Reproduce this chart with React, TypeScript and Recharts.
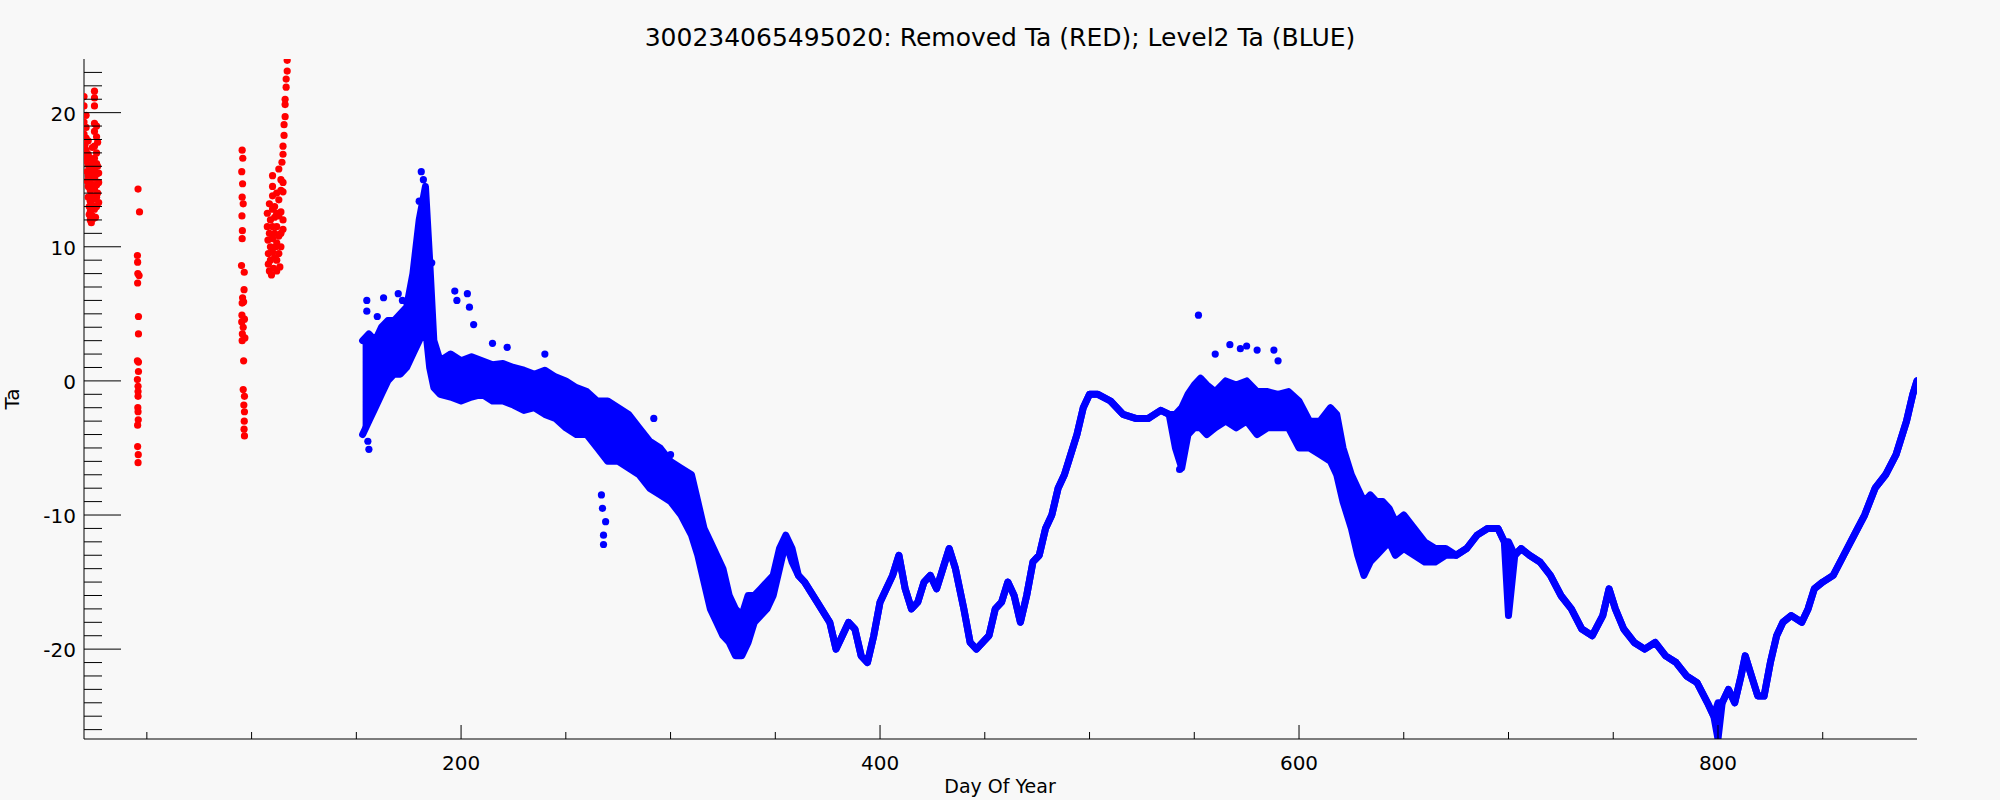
import {
  Area,
  ComposedChart,
  Scatter,
  XAxis,
  YAxis,
} from "recharts";

// Level2 Ta trace: [day, low, high] envelope of the plotted cloud
const level2Band: [number, number, number][] = [
  [153, -4, 3], [156, -3, 3.5], [159, -2, 3], [162, -1, 4], [165, 0, 4.5],
  [168, 0.5, 4.5], [171, 0.5, 5], [174, 1, 5.5], [177, 2, 8], [180, 3, 12],
  [183, 4, 14.5], [185, 1, 9], [187, -0.5, 3], [190, -1, 1.5], [195, -1.2, 2],
  [200, -1.5, 1.5], [205, -1.2, 1.8], [210, -1, 1.5], [215, -1.5, 1.2], [220, -1.5, 1.3],
  [225, -1.8, 1], [230, -2.2, 0.8], [235, -2, 0.5], [240, -2.5, 0.8], [245, -2.8, 0.3],
  [250, -3.5, 0], [255, -4, -0.5], [260, -4, -0.8], [265, -5, -1.5], [270, -6, -1.5],
  [275, -6, -2], [280, -6.5, -2.5], [285, -7, -3.5], [290, -8, -4.5], [295, -8.5, -5],
  [300, -9, -6], [305, -10, -6.5], [310, -11.5, -7], [313, -13, -9], [316, -15, -11],
  [319, -17, -12], [322, -18, -13], [325, -19, -14], [328, -19.5, -16], [331, -20.5, -17],
  [334, -20.5, -17.5], [337, -19.5, -16], [340, -18, -16], [343, -17.5, -15.5], [346, -17, -15],
  [349, -16, -14.5], [352, -14, -12.5], [355, -12, -11.5], [358, -13.5, -12.5],
  [361, -14.5, -14.5], [364, -15, -15], [370, -16.5, -16.5], [376, -18, -18], [379, -20, -20],
  [382, -19, -19], [385, -18, -18], [388, -18.5, -18.5], [391, -20.5, -20.5], [394, -21, -21],
  [397, -19, -19], [400, -16.5, -16.5], [403, -15.5, -15.5], [406, -14.5, -14.5], [409, -13, -13],
  [412, -15.5, -15.5], [415, -17, -17], [418, -16.5, -16.5], [421, -15, -15], [424, -14.5, -14.5],
  [427, -15.5, -15.5], [430, -14, -14], [433, -12.5, -12.5], [436, -14, -14], [440, -17, -17],
  [443, -19.5, -19.5], [446, -20, -20], [449, -19.5, -19.5], [452, -19, -19], [455, -17, -17],
  [458, -16.5, -16.5], [461, -15, -15], [464, -16, -16], [467, -18, -18], [470, -16, -16],
  [473, -13.5, -13.5], [476, -13, -13], [479, -11, -11], [482, -10, -10], [485, -8, -8],
  [488, -7, -7], [491, -5.5, -5.5], [494, -4, -4], [497, -2, -2], [500, -1, -1],
  [504, -1, -1], [510, -1.5, -1.5], [516, -2.5, -2.5], [522, -2.8, -2.8], [528, -2.8, -2.8],
  [534, -2.2, -2.2], [538, -2.5, -2.5], [541, -5, -2.5], [544, -6.5, -2], [547, -4, -1],
  [550, -3.5, -0.3], [553, -3.5, 0.2], [556, -4, -0.3], [560, -3.5, -0.8], [565, -3, 0],
  [570, -3.5, -0.3], [575, -3, 0], [580, -4, -0.8], [585, -3.5, -0.8], [590, -3.5, -1],
  [595, -3.5, -0.8], [600, -5, -1.5], [605, -5, -3], [610, -5.5, -3], [615, -6, -2],
  [618, -7, -2.5], [621, -9, -5], [625, -11, -7], [628, -13, -8], [631, -14.5, -9],
  [634, -13.5, -8.5], [637, -13, -9], [640, -12.5, -9], [643, -12, -9.5], [646, -13, -10.5],
  [650, -12.5, -10], [655, -13, -11], [660, -13.5, -12], [665, -13.5, -12.5], [670, -13, -12.5],
  [675, -13, -13], [680, -12.5, -12.5], [685, -11.5, -11.5], [690, -11, -11], [695, -11, -11],
  [698, -12, -12], [700, -17.5, -12], [703, -13, -13], [706, -12.5, -12.5], [710, -13, -13],
  [715, -13.5, -13.5], [720, -14.5, -14.5], [725, -16, -16], [730, -17, -17], [735, -18.5, -18.5],
  [740, -19, -19], [745, -17.5, -17.5], [748, -15.5, -15.5], [751, -17, -17], [755, -18.5, -18.5],
  [760, -19.5, -19.5], [765, -20, -20], [770, -19.5, -19.5], [775, -20.5, -20.5], [780, -21, -21],
  [785, -22, -22], [790, -22.5, -22.5], [795, -24, -24], [798, -25, -25], [800, -26.7, -24],
  [802, -24, -24], [805, -23, -23], [808, -24, -24], [811, -22, -22], [813, -20.5, -20.5],
  [816, -22, -22], [819, -23.5, -23.5], [822, -23.5, -23.5], [825, -21, -21], [828, -19, -19],
  [831, -18, -18], [835, -17.5, -17.5], [840, -18, -18], [843, -17, -17], [846, -15.5, -15.5],
  [850, -15, -15], [855, -14.5, -14.5], [860, -13, -13], [865, -11.5, -11.5], [870, -10, -10],
  [875, -8, -8], [880, -7, -7], [885, -5.5, -5.5], [890, -3, -3], [893, -1, -1], [895, 0, 0],
];

// Level2 points that stand clear of the trace
const level2Spikes: [number, number][] = [
  [155, 6.0], [155, 5.2], [155.5, -4.5], [156, -5.1], [160, 4.8], [163, 6.2], [170, 6.5],
  [172, 6.0], [181, 15.6], [182, 15.0], [180, 13.4], [184, 9.5], [186, 8.8], [197, 6.7],
  [198, 6.0], [203, 6.5], [204, 5.5], [206, 4.2], [215, 2.8], [222, 2.5], [240, 2.0],
  [267, -8.5], [267.5, -9.5], [268, -12.2], [268, -11.5], [269, -10.5], [282, -3.0],
  [292, -2.8], [300, -5.5],
  [543, -6.6], [552, 4.9], [560, 2.0], [567, 2.7], [572, 2.4], [575, 2.6], [580, 2.3],
  [588, 2.3], [590, 1.5],
];

// Removed Ta points, four groups
const removedEarly: [number, number][] = [
  [20, 21.2], [20, 20.5], [20, 19.3], [20, 18.4], [20.5, 17.6], [20.5, 16.8], [21, 19.8],
  [21, 18.9], [21, 18.1], [21, 17.2], [21, 16.4], [21.5, 15.6], [21.5, 14.9], [22, 17.9],
  [22, 16.9], [22, 16.1], [22, 15.3], [22, 14.5], [22, 13.7], [22.5, 13.0], [22.5, 12.4],
  [23, 16.6], [23, 15.8], [23, 15.0], [23, 14.2], [23, 13.4], [23, 12.6], [23, 12.0],
  [23.5, 11.8], [24, 17.4], [24, 16.2], [24, 15.4], [24, 14.6], [24, 13.8], [24, 13.1],
  [24, 12.3], [24.5, 12.1], [25, 21.6], [25, 21.1], [25, 20.5], [25, 19.2], [25, 18.6],
  [25, 17.5], [25, 16.6], [25, 15.8], [25, 15.1], [25, 14.3], [25, 13.6], [25, 12.8],
  [25.5, 12.2], [26, 19.0], [26, 18.2], [26, 17.0], [26, 16.2], [26, 15.4], [26, 14.6],
  [26, 13.7], [26, 13.0], [26.5, 17.8], [26.5, 16.0], [26.5, 14.0], [27, 15.5], [27, 14.8],
  [27, 13.3],
];

const removedDay46: [number, number][] = [
  [45.8, 14.3], [46.5, 12.6], [45.5, 9.35], [45.6, 8.85], [45.7, 8.0], [46.3, 7.85],
  [45.6, 7.3], [46, 4.8], [46, 3.5], [45.5, 1.5], [46, 1.4], [46, 0.7], [45.5, 0.1],
  [45.8, -0.4], [45.8, -0.8], [45.8, -1.15], [45.7, -2.0], [45.8, -2.3], [45.9, -2.9],
  [45.6, -3.3], [45.6, -4.9], [45.9, -5.5], [45.8, -6.1],
];

const removedDay96: [number, number][] = [
  [95.5, 17.2], [95.8, 16.6], [95.3, 15.6], [95.7, 14.7], [95.5, 13.7], [96, 13.2],
  [95.4, 12.3], [95.6, 11.2], [95.5, 10.6], [95.2, 8.6], [96.5, 8.1], [96.4, 6.8],
  [95.7, 6.2], [95.5, 5.8], [96.2, 5.9], [95.4, 4.9], [96.6, 4.6], [95.3, 4.4], [96, 4.0],
  [95.6, 3.5], [96.8, 3.2], [95.5, 3.0], [96.2, 1.5], [96, -0.65], [96.6, -1.15],
  [96.3, -1.8], [96.6, -2.3], [96.5, -3.0], [96.4, -3.6], [96.6, -4.1],
];

const removedDay112: [number, number][] = [
  [107.5, 12.5], [107.5, 11.5], [107.8, 10.5], [108, 9.5], [108, 8.7], [108.5, 13.2],
  [108.5, 11.0], [108.5, 8.2], [109, 12.0], [109, 10.0], [109, 9.0], [109.5, 7.9],
  [110, 15.3], [110, 14.5], [110, 13.8], [110, 12.8], [110, 11.5], [110, 10.6], [110, 9.6],
  [110.5, 8.4], [111, 13.0], [111, 12.2], [111, 11.0], [111, 9.2], [111.5, 10.0],
  [112, 14.0], [112, 12.5], [112, 11.5], [112, 10.3], [112, 9.0], [112, 8.2], [113, 15.8],
  [113, 13.5], [113, 12.3], [113, 10.8], [113, 9.5], [113.5, 8.5], [114, 15.0], [114, 14.2],
  [114, 12.6], [114, 11.0], [114, 10.0], [114.5, 16.3], [115, 17.5], [115, 16.9],
  [115, 14.8], [115, 14.1], [115, 12.0], [115, 11.3], [115.5, 18.3], [115.5, 19.1],
  [116, 19.7], [116, 20.6], [116, 21.0], [116.5, 21.9], [116.5, 22.5], [117, 23.1],
  [117, 23.9], [117.5, 24.5],
];

const xMinorTicks = [50, 100, 150, 200, 250, 300, 350, 400, 450, 500, 550, 600, 650, 700, 750, 800, 850];
const yMinorTicks = [
  -26, -25, -24, -23, -22, -21, -20, -19, -18, -17, -16, -15, -14, -13, -12, -11, -10, -9, -8,
  -7, -6, -5, -4, -3, -2, -1, 0, 1, 2, 3, 4, 5, 6, 7, 8, 9, 10, 11, 12, 13, 14, 15, 16, 17,
  18, 19, 20, 21, 22, 23,
];

const TITLE = "300234065495020: Removed Ta (RED); Level2 Ta (BLUE)";
const FONT = "'DejaVu Sans', sans-serif";
const RED = "#ff0000";
const BLUE = "#0000ff";

const bandRows = level2Band.map(([day, lo, hi]) => ({ day, band: [lo, hi] }));
const toPoints = (list: [number, number][]) => list.map(([day, ta]) => ({ day, ta }));
const removedPoints = toPoints([...removedEarly, ...removedDay46, ...removedDay96, ...removedDay112]);

const Dot = (color: string) => (p: any) => <circle cx={p.cx} cy={p.cy} r={3.6} fill={color} />;

function BottomTick({ x, y, payload }: any) {
  const major = payload.value % 200 === 0;
  return (
    <g>
      <line x1={x} y1={y} x2={x} y2={y - (major ? 14 : 7)} stroke="#000" />
      {major ? (
        <text x={x} y={y + 31} textAnchor="middle" fontFamily={FONT} fontSize={20} fill="#000">
          {payload.value}
        </text>
      ) : null}
    </g>
  );
}

function TopTick({ x, y, payload }: any) {
  const major = payload.value % 200 === 0;
  return <line x1={x} y1={y} x2={x} y2={y + (major ? 14 : 7)} stroke="#000" />;
}

function LeftTick({ x, y, payload }: any) {
  const major = payload.value % 10 === 0;
  return (
    <g>
      <line x1={x} y1={y} x2={x + (major ? 37 : 18)} y2={y} stroke="#000" />
      {major ? (
        <text x={x - 8} y={y + 8} textAnchor="end" fontFamily={FONT} fontSize={20} fill="#000">
          {payload.value}
        </text>
      ) : null}
    </g>
  );
}

function RightTick({ x, y, payload }: any) {
  const major = payload.value % 10 === 0;
  return <line x1={x} y1={y} x2={x - (major ? 37 : 18)} y2={y} stroke="#000" />;
}

export default function App() {
  return (
    <div style={{ position: "absolute", left: 0, top: 0, width: 2000, height: 800, background: "#f8f8f8" }}>
      <ComposedChart
        width={2000}
        height={800}
        data={bandRows}
        margin={{ top: 59, right: 83, bottom: 0, left: 0 }}
      >
        <XAxis
          dataKey="day"
          type="number"
          domain={[20, 895]}
          allowDataOverflow
          ticks={xMinorTicks}
          interval={0}
          height={61}
          tickSize={0}
          tickMargin={0}
          tickLine={false}
          axisLine={{ stroke: "#000" }}
          tick={<BottomTick />}
        />
        <XAxis
          xAxisId="top"
          orientation="top"
          type="number"
          domain={[20, 895]}
          allowDataOverflow
          ticks={xMinorTicks}
          interval={0}
          height={0}
          tickSize={0}
          tickMargin={0}
          tickLine={false}
          axisLine={{ stroke: "#000" }}
          tick={<TopTick />}
        />
        <YAxis
          type="number"
          domain={[-26.7, 24]}
          allowDataOverflow
          ticks={yMinorTicks}
          interval={0}
          width={84}
          tickSize={0}
          tickMargin={0}
          tickLine={false}
          axisLine={{ stroke: "#000" }}
          tick={<LeftTick />}
        />
        <YAxis
          yAxisId="right"
          orientation="right"
          type="number"
          domain={[-26.7, 24]}
          allowDataOverflow
          ticks={yMinorTicks}
          interval={0}
          width={0}
          tickSize={0}
          tickMargin={0}
          tickLine={false}
          axisLine={{ stroke: "#000" }}
          tick={<RightTick />}
        />
        <Area
          dataKey="band"
          type="linear"
          fill={BLUE}
          fillOpacity={1}
          stroke={BLUE}
          strokeWidth={7}
          strokeLinejoin="round"
          strokeLinecap="round"
          dot={false}
          activeDot={false}
          isAnimationActive={false}
        />
        <Scatter data={toPoints(level2Spikes)} dataKey="ta" shape={Dot(BLUE)} isAnimationActive={false} />
        <Scatter data={removedPoints} dataKey="ta" shape={Dot(RED)} isAnimationActive={false} />
      </ComposedChart>
      <svg width={2000} height={800} style={{ position: "absolute", left: 0, top: 0, pointerEvents: "none" }}>
        <text x={1000} y={46} textAnchor="middle" fontFamily={FONT} fontSize={25} fill="#000">
          {TITLE}
        </text>
        <text x={1000} y={793} textAnchor="middle" fontFamily={FONT} fontSize={19} fill="#000">
          Day Of Year
        </text>
        <text
          x={19}
          y={399}
          textAnchor="middle"
          fontFamily={FONT}
          fontSize={20}
          fill="#000"
          transform="rotate(-90 19 399)"
        >
          Ta
        </text>
      </svg>
    </div>
  );
}
